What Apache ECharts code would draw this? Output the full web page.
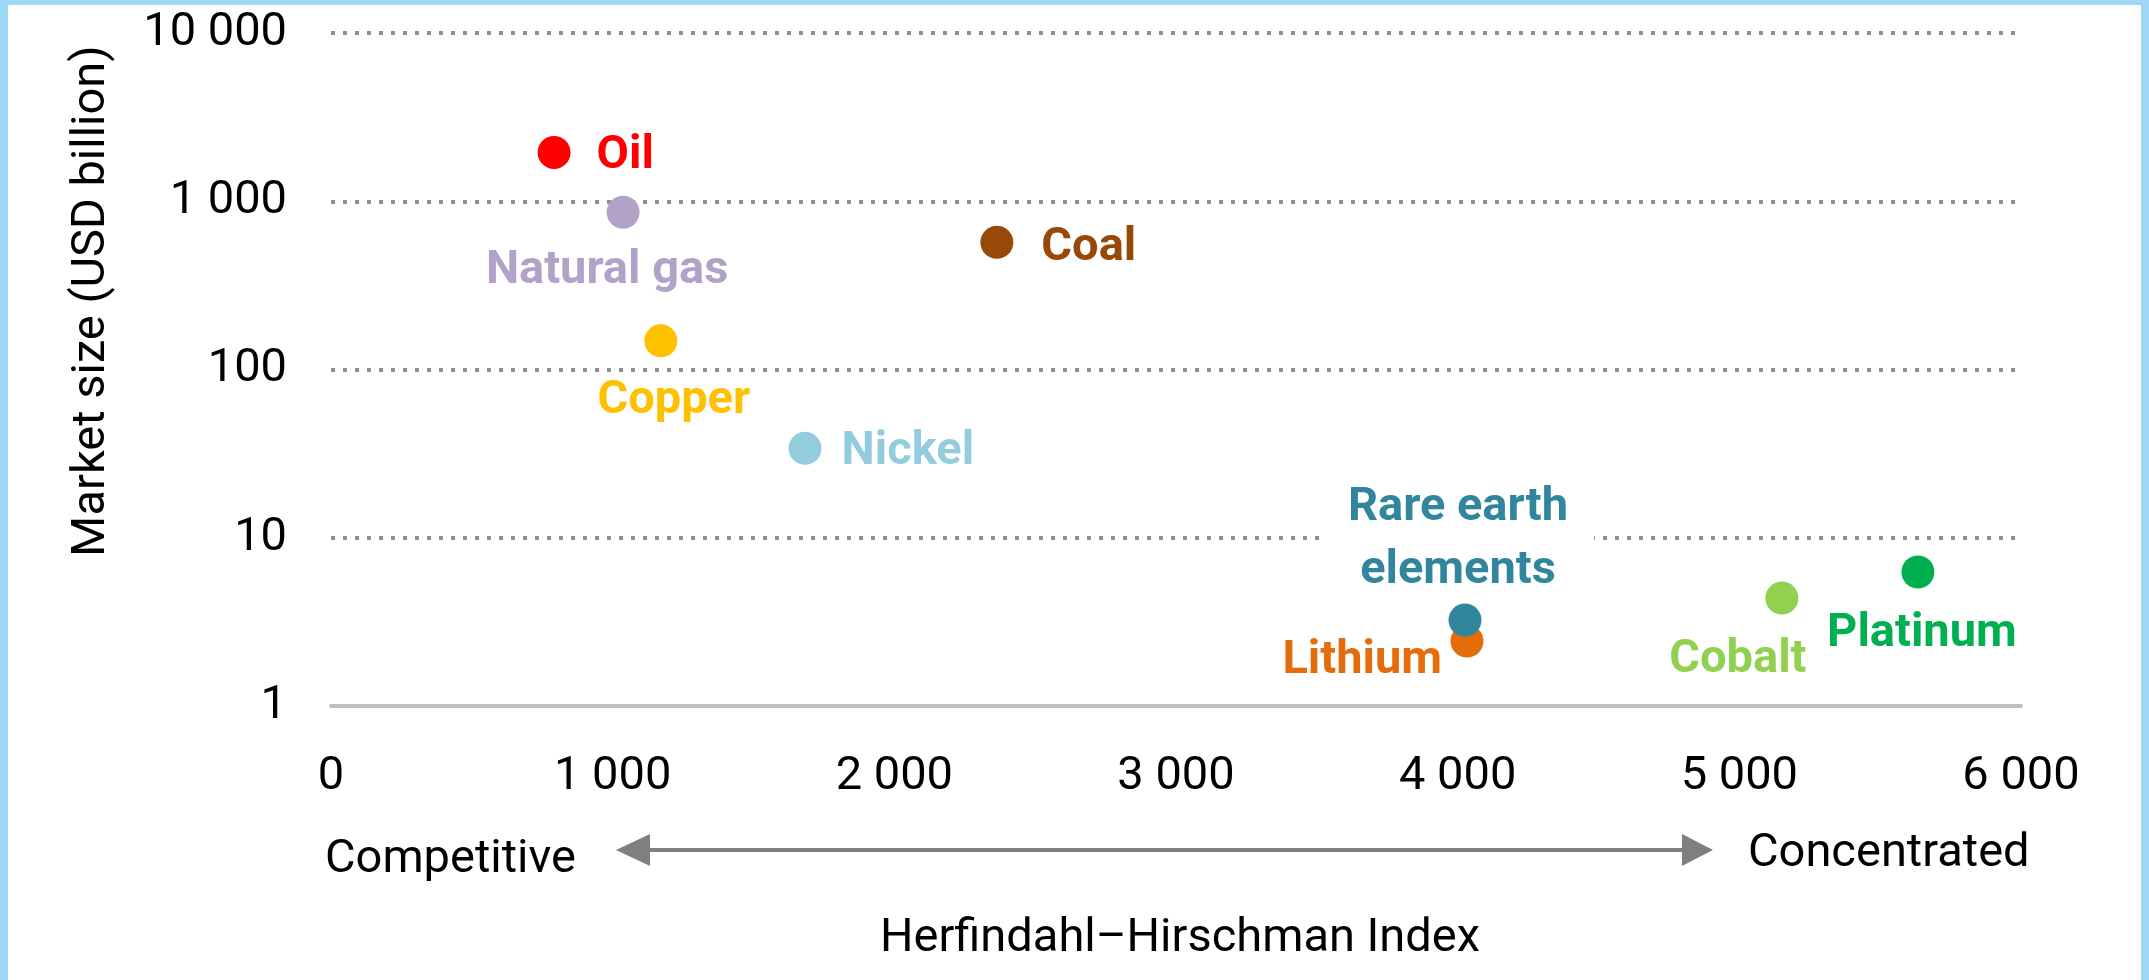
<!DOCTYPE html>
<html>
<head>
<meta charset="utf-8">
<script src="https://cdn.jsdelivr.net/npm/echarts@6/dist/echarts.min.js"></script>
<style>
html, body { margin: 0; padding: 0; background: #fff; }
#main { width: 2149px; height: 980px; }
</style>
</head>
<body>
<div id="main"></div>
<script>
// commodities, drawn in this order (lithium under rare earths)
const names = ['Oil', 'Natural gas', 'Coal', 'Copper', 'Nickel', 'Lithium', 'Rare earth\nelements', 'Cobalt', 'Platinum'];
const hhi = [792, 1037, 2364, 1171, 1683, 4033, 4026, 5151, 5634];
const marketSize = [1950, 860, 570, 148, 34, 2.43, 3.24, 4.38, 6.26];
const colors = ['#FF0000', '#B3A2C7', '#984807', '#FFC000', '#93CDDD', '#E46C0A', '#31859C', '#92D050', '#00B050'];

const xTickLabels = ['0', '1 000', '2 000', '3 000', '4 000', '5 000', '6 000'];
const yTickLabels = {1: '1', 10: '10', 100: '100', 1000: '1 000', 10000: '10 000'};

const FONT = 'Roboto';
const FS = 47;
const DOT = 33;

// label anchor relative to the dot centre: [dx, dy, align]
const labelShift = [
    [26 + DOT / 2, 4, 'left'],
    [-16, 59, 'center'],
    [28 + DOT / 2, 6, 'left'],
    [13, 60, 'center'],
    [20 + DOT / 2, 4, 'left'],
    [-25, 20, 'right'],
    [-7, -80, 'center'],
    [-44, 62, 'center'],
    [4, 62, 'center']
];

let points = [];
for (let i = 0; i < names.length; i++) {
    let s = labelShift[i];
    let label = {
        show: true,
        formatter: '{b}',
        position: [DOT / 2 + s[0], DOT / 2 + s[1]],
        align: s[2],
        verticalAlign: 'middle',
        color: colors[i],
        fontFamily: FONT,
        fontSize: FS,
        fontWeight: 'bold'
    };
    if (names[i].indexOf('\n') >= 0) {
        label.lineHeight = 63;
        label.backgroundColor = '#fff';
        label.padding = [0, 26];
    }
    points.push({
        name: names[i],
        value: [hhi[i], marketSize[i]],
        itemStyle: {color: colors[i], opacity: 1},
        label: label
    });
}

function txt(x, y, s, align, rot) {
    return {
        type: 'text', x: x, y: y, rotation: rot || 0,
        style: {text: s, fontFamily: FONT, fontSize: FS, fill: '#000', align: align, verticalAlign: 'middle'}
    };
}

let option = {
    animation: false,
    backgroundColor: '#fff',
    grid: {left: 331, right: 128, top: 33, bottom: 274, outerBoundsMode: 'none'},
    xAxis: {
        type: 'value',
        min: 0,
        max: 6000,
        interval: 1000,
        axisLine: {show: true, lineStyle: {color: '#BFBFBF', width: 4}},
        axisTick: {show: false},
        splitLine: {show: false},
        axisLabel: {
            margin: 48,
            color: '#000',
            fontFamily: FONT,
            fontSize: FS,
            formatter: v => xTickLabels[Math.round(v / 1000)]
        }
    },
    yAxis: {
        type: 'log',
        logBase: 10,
        min: 1,
        max: 10000,
        axisLine: {show: false},
        axisTick: {show: false},
        splitLine: {show: true, lineStyle: {color: '#8F8F8F', width: 4, type: [4, 8]}},
        axisLabel: {
            margin: 44,
            padding: [6, 0, 0, 0],
            color: '#000',
            fontFamily: FONT,
            fontSize: FS,
            formatter: v => yTickLabels[Math.round(v)] || ''
        }
    },
    series: [{
        type: 'scatter',
        symbol: 'circle',
        symbolSize: DOT,
        data: points
    }],
    graphic: [
        {type: 'rect', shape: {x: 0, y: 0, width: 2149, height: 5}, style: {fill: '#9FD8F6'}},
        {type: 'rect', shape: {x: 0, y: 0, width: 8, height: 980}, style: {fill: '#9FD8F6'}},
        {type: 'rect', shape: {x: 2141, y: 0, width: 8, height: 980}, style: {fill: '#9FD8F6'}},
        txt(92, 301, 'Market size (USD billion)', 'center', Math.PI / 2),
        txt(325, 860, 'Competitive', 'left'),
        txt(1748, 854, 'Concentrated', 'left'),
        txt(1180, 939, 'Herfindahl\u2013Hirschman Index', 'center'),
        {type: 'line', shape: {x1: 648, y1: 850, x2: 1684, y2: 850}, style: {stroke: '#7F7F7F', lineWidth: 4}},
        {type: 'polygon', shape: {points: [[616, 850], [650, 834], [650, 866]]}, style: {fill: '#7F7F7F'}},
        {type: 'polygon', shape: {points: [[1713, 850], [1682, 834], [1682, 866]]}, style: {fill: '#7F7F7F'}}
    ]
};

let chart = echarts.init(document.getElementById('main'));
chart.setOption(option);
</script>
</body>
</html>
